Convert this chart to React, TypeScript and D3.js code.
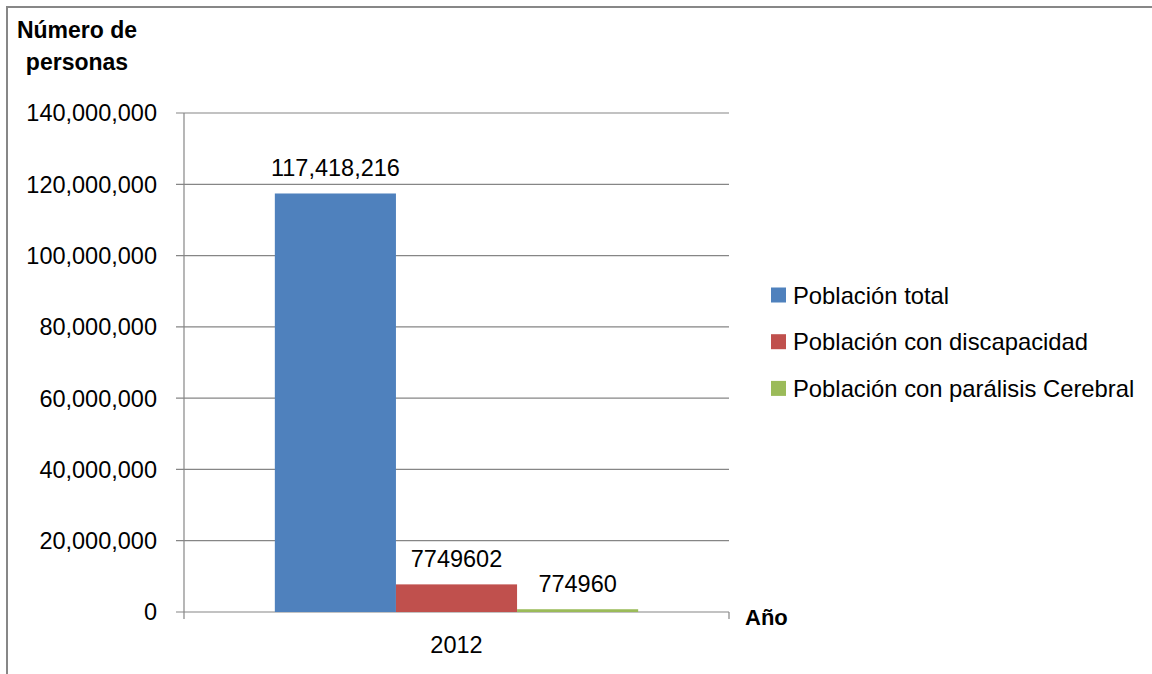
import React from "react";
import * as d3 from "d3";

// Población de México, 2012
const categories: string[] = ["2012"];
const seriesNames: string[] = [
  "Población total",
  "Población con discapacidad",
  "Población con parálisis Cerebral",
];
const seriesValues: number[] = [117418216, 7749602, 774960];
const seriesLabels: string[] = ["117,418,216", "7749602", "774960"];
const seriesColors: string[] = ["#4F81BD", "#C0504D", "#9BBB59"];
const yTicks: number[] = [0, 20000000, 40000000, 60000000, 80000000, 100000000, 120000000, 140000000];

const W = 1152;
const H = 674;
const FONT = "'Liberation Sans', Arial, sans-serif";

export default function App() {
  const plotLeft = 184;
  const plotRight = 729;
  const plotTop = 113;
  const plotBottom = 612;

  const y = d3.scaleLinear().domain([0, 140000000]).range([plotBottom, plotTop]);
  const x0 = d3
    .scaleBand<string>()
    .domain(categories)
    .range([plotLeft, plotRight])
    .paddingInner(0)
    .paddingOuter(0.25);
  const x1 = d3
    .scaleBand<string>()
    .domain(seriesNames)
    .range([0, x0.bandwidth()]);

  const fmt = d3.format(",");
  const gridColor = "#868686";

  return (
    <svg
      width={W}
      height={H}
      style={{ position: "absolute", left: 0, top: 0, background: "#fff" }}
      fontFamily={FONT}
    >
      {/* chart frame */}
      <rect x={7} y={7} width={W + 20} height={H + 20} fill="#fff" stroke="#878787" strokeWidth={2} />

      {/* axis title */}
      <text x={77} y={38} textAnchor="middle" fontSize={23} fontWeight="bold" fill="#000">
        Número de
      </text>
      <text x={77} y={70} textAnchor="middle" fontSize={23} fontWeight="bold" fill="#000">
        personas
      </text>

      {/* gridlines, ticks and tick labels */}
      {yTicks.map((t) => (
        <g key={t}>
          <line x1={plotLeft - 8} x2={plotRight} y1={y(t)} y2={y(t)} stroke={gridColor} strokeWidth={1.2} />
          <text
            x={157}
            y={y(t)}
            dy="0.36em"
            textAnchor="end"
            fontSize={23.5}
            fill="#000"
          >
            {fmt(t)}
          </text>
        </g>
      ))}

      {/* y axis */}
      <line x1={plotLeft} x2={plotLeft} y1={plotTop} y2={plotBottom + 7} stroke={gridColor} strokeWidth={1.2} />
      {/* x axis end tick */}
      <line x1={plotRight} x2={plotRight} y1={plotBottom} y2={plotBottom + 7} stroke={gridColor} strokeWidth={1.2} />

      {/* bars */}
      {categories.map((c) => (
        <g key={c} transform={`translate(${x0(c)},0)`}>
          {seriesNames.map((s, i) => {
            const bx = x1(s) as number;
            const bw = x1.bandwidth();
            const top = y(seriesValues[i]);
            return (
              <g key={s}>
                <rect x={bx} y={top} width={bw} height={plotBottom - top} fill={seriesColors[i]} />
                <text
                  x={bx + bw / 2}
                  y={top - 17}
                  textAnchor="middle"
                  fontSize={23.5}
                  fill="#000"
                >
                  {seriesLabels[i]}
                </text>
              </g>
            );
          })}
        </g>
      ))}

      {/* category labels */}
      {categories.map((c) => (
        <text
          key={c}
          x={(x0(c) as number) + x0.bandwidth() / 2}
          y={653}
          textAnchor="middle"
          fontSize={23.5}
          fill="#000"
        >
          {c}
        </text>
      ))}

      <text x={745} y={625} fontSize={22} fontWeight="bold" fill="#000">
        Año
      </text>

      {/* legend */}
      {seriesNames.map((s, i) => {
        const cy = 295 + i * 46.7;
        return (
          <g key={s}>
            <rect x={771} y={cy - 7.5} width={15} height={15} fill={seriesColors[i]} />
            <text x={793} y={cy} dy="0.36em" fontSize={23.8} fill="#000">
              {s}
            </text>
          </g>
        );
      })}
    </svg>
  );
}
